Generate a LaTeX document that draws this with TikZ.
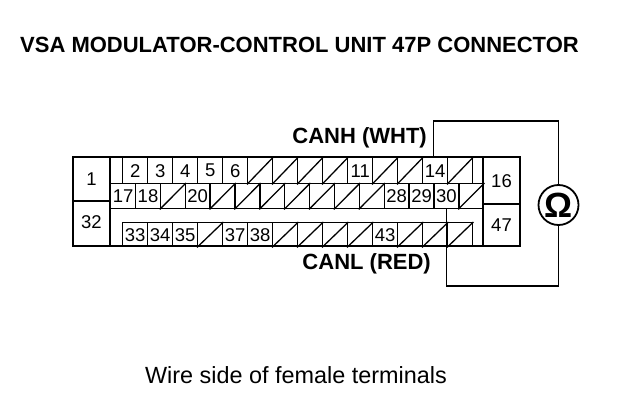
\documentclass[tikz,border=0pt]{standalone}
\usepackage{fontspec}
\setmainfont{Liberation Sans}
\tikzset{
  pin/.style={draw, line width=1.4pt, anchor=north west, inner sep=0pt, minimum width=#1,
    font=\fontsize{18.5}{18.5}\selectfont},
  side/.style={inner sep=0pt, font=\fontsize{18.5}{18.5}\selectfont},
  caption/.style={inner sep=0pt, font=\fontsize{22}{22}\selectfont\bfseries},
  slash/.style={line width=1.3pt},
  wire/.style={line width=1.4pt}
}
\begin{document}
\begin{tikzpicture}[x=1pt,y=-1pt]
    \useasboundingbox (0,0) rectangle (640,412);
    \fill[white] (0,0) rectangle (640,412);
    \node[caption, anchor=west] (title) at (20,45) {VSA MODULATOR-CONTROL UNIT 47P CONNECTOR};

    % upper row
    \foreach \n [evaluate=\n as \x using 122+25*(\n-2)] in {2,3,4,5,6,11,14}
    \node[pin=25pt, minimum height=26pt] (c\n) at (\x,157) {\n};
    \foreach \n [evaluate=\n as \x using 122+25*(\n-2)] in {7,8,9,10,12,13,15} {
      \node[pin=25pt, minimum height=26pt] (c\n) at (\x,157) {};
      \draw[slash] (c\n.south west) -- (c\n.north east);
    }

    % middle row
    \foreach \n [evaluate=\n as \x using 110+24.87*(\n-17)] in {17,18,20,28,29,30}
    \node[pin=24.87pt, minimum height=25pt] (c\n) at (\x,183) {\n};
    \foreach \n [evaluate=\n as \x using 110+24.87*(\n-17)] in {19,21,22,23,24,25,26,27,31} {
      \node[pin=24.87pt, minimum height=25pt] (c\n) at (\x,183) {};
      \draw[slash] (c\n.south west) -- (c\n.north east);
    }

    % lower row
    \foreach \n [evaluate=\n as \x using 122+25*(\n-33)] in {33,34,35,37,38,43}
    \node[pin=25pt, minimum height=24pt] (c\n) at (\x,222) {\n};
    \foreach \n [evaluate=\n as \x using 122+25*(\n-33)] in {36,39,40,41,42,44,45,46} {
      \node[pin=25pt, minimum height=24pt] (c\n) at (\x,222) {};
      \draw[slash] (c\n.south west) -- (c\n.north east);
    }

    % housing
    \draw[line width=2.5pt] (73,157) rectangle (520,246);
    \draw[line width=1.8pt] (110,157) -- (110,246);
    \draw[line width=1.8pt] (73,201) -- (110,201);
    \draw[line width=1.8pt] (483,157) -- (483,246);
    \draw[line width=1.8pt] (483,204) -- (520,204);
    \node[side] (p1) at (91.5,179) {1};
    \node[side] (p32) at (91.5,222) {32};
    \node[side] (p16) at (501.5,181) {16};
    \node[side] (p47) at (501.5,225) {47};

    % meter and leads
    \node[draw, circle, line width=1.8pt, minimum size=40pt, inner sep=0pt,
      font=\fontsize{35}{35}\selectfont\bfseries] (meter) at (558.5,205) {\symbol{"03A9}};
    \coordinate (hitop) at (c30.north west |- 0,157);
    \draw[wire] (hitop) |- (558.5,121) -- (meter.north);
    \draw[wire] (c30.south) |- (558.5,286) -- (meter.south);

    \node[caption, anchor=east] (canh) at (427,138) {CANH (WHT)};
    \node[caption, anchor=east] (canl) at (431,264) {CANL (RED)};
    \node[inner sep=0pt, font=\fontsize{23.4}{23.4}\selectfont] (note) at (296,375) {Wire side of female terminals};
  \end{tikzpicture}
\end{document}
